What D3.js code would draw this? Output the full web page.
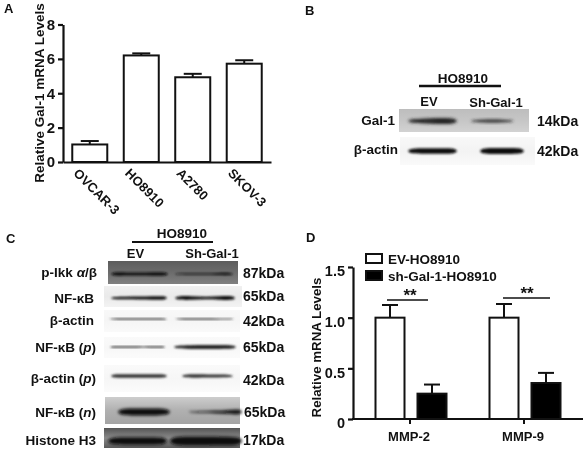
<!DOCTYPE html>
<html><head><meta charset="utf-8">
<script src="https://cdn.jsdelivr.net/npm/d3@7/dist/d3.min.js"></script>
<style>html,body{margin:0;padding:0;background:#fff}svg{display:block;filter:blur(.35px)}text{font-family:"Liberation Sans",Arial,sans-serif;font-weight:bold;fill:#111}</style>
</head><body><svg id="c" width="587" height="454"></svg>
<script>
// Panel A data
const aCategories=["OVCAR-3","HO8910","A2780","SKOV-3"];
const aValues=[1.02,6.2,4.93,5.72];
const aErrors=[0.2,0.12,0.2,0.2];
const aTicks=[0,2,4,6,8];
// Panel D data
const dCategories=["MMP-2","MMP-9"];
const dSeriesNames=["EV-HO8910","sh-Gal-1-HO8910"];
const dEV=[1.0,1.0];
const dEVErr=[0.125,0.135];
const dSh=[0.25,0.355];
const dShErr=[0.09,0.1];
const dTicks=[0,0.5,1.0,1.5];
const dTickLabels=["0","0.5","1.0","1.5"];
// Blot band strengths, sampled across each lane (estimated, 0..1)
const bLabels=["Gal-1","β-actin"];
const bKda=["14kDa","42kDa"];
const bLanes=["EV","Sh-Gal-1"];
const bBand=[[[.45,.6,.8,.95,.7],[.25,.4,.45,.4,.2]],[[.7,.85,.85,.85,.8],[.8,.95,.95,.95,.85]]];
// Each label: pieces of [text, italic?]
const cLabels=[[["p-Ikk "],["α",1],["/β"]],[["NF-κB"]],[["β-actin"]],[["NF-κB ("],["p",1],[")"]],[["β-actin ("],["p",1],[")"]],[["NF-κB ("],["n",1],[")"]],[["Histone H3"]]];
const cKda=["87kDa","65kDa","42kDa","65kDa","42kDa","65kDa","17kDa"];
const cBand=[
 [[.7,.65,.55,.65,.8],[.3,.25,.3,.4,.55]],
 [[.5,.55,.55,.65,.85],[.75,.8,.45,.65,.9]],
 [[.25,.3,.25,.3,.3],[.25,.3,.25,.25,.25]],
 [[.25,.3,.2,.2,.35],[.5,.65,.65,.65,.6]],
 [[.55,.5,.45,.5,.55],[.4,.5,.45,.4,.35]],
 [[.8,1,1,1,.85],[.15,.25,.3,.5,.8]],
 [[.7,.85,.85,.85,.8],[.9,1,1,.95,.9]]
];

const svg=d3.select("#c");
const defs=svg.append("defs");
[["b1",.9],["b2",1.4]].forEach(([id,s])=>defs.append("filter").attr("id",id)
  .attr("x","-10%").attr("y","-60%").attr("width","120%").attr("height","220%")
  .append("feGaussianBlur").attr("stdDeviation",s));

function axisStyle(g,w=2.2){g.selectAll(".domain").attr("stroke","#111").attr("stroke-width",w);
  g.selectAll(".tick line").attr("stroke","#111").attr("stroke-width",w);}
function txt(x,y,s,size,anchor="start",parent=svg){return parent.append("text").attr("x",x).attr("y",y).attr("font-size",size).attr("text-anchor",anchor).text(s);}

// panel letters
[["A",4,13],["B",305,15],["C",6,243],["D",306,242]].forEach(d=>txt(d[1],d[2],d[0],13));

// Panel A
{
 const x=d3.scaleBand().domain(aCategories).range([63,271]).paddingInner(.32).paddingOuter(.18);
 const y=d3.scaleLinear().domain([0,8]).range([162,24.5]);
 aCategories.forEach((c,i)=>{
  const cx=x(c)+x.bandwidth()/2;
  svg.append("line").attr("x1",cx).attr("x2",cx).attr("y1",y(aValues[i])).attr("y2",y(aValues[i]+aErrors[i])).attr("stroke","#111").attr("stroke-width",2);
  svg.append("line").attr("x1",cx-9).attr("x2",cx+9).attr("y1",y(aValues[i]+aErrors[i])).attr("y2",y(aValues[i]+aErrors[i])).attr("stroke","#111").attr("stroke-width",2);
  svg.append("rect").attr("x",x(c)).attr("y",y(aValues[i])).attr("width",x.bandwidth()).attr("height",y(0)-y(aValues[i])).attr("fill","#fff").attr("stroke","#111").attr("stroke-width",2);
 });
 const ay=svg.append("g").attr("transform","translate(63,0)").call(d3.axisLeft(y).tickValues(aTicks).tickSize(5).tickSizeOuter(0).tickPadding(3));
 axisStyle(ay); ay.selectAll("text").attr("font-size",15);
 const ax=svg.append("g").attr("transform","translate(0,162)").call(d3.axisBottom(x).tickSize(0).tickSizeOuter(0));
 axisStyle(ax);
 ax.selectAll(".tick text").attr("font-size",13).attr("text-anchor","start").attr("dy",0).attr("y",0)
   .attr("transform","translate(-17,12) rotate(45)");
 txt(0,0,"Relative Gal-1 mRNA Levels",13.5,"middle").attr("transform","translate(44,93) rotate(-90)");
}

// Panel D
{
 const centres=[411,525];
 const y=d3.scaleLinear().domain([0,1.5]).range([419,267]);
 const sigY=[300,298], sigX=[[387,428],[503,550]], starX=[410,527], tickX=[410,524];
 dCategories.forEach((c,i)=>{
  const cx=centres[i];
  [[dEV,dEVErr,"#fff",cx-21],[dSh,dShErr,"#000",cx+21]].forEach(([v,e,f,m])=>{
   const top=y(v[i]+e[i]);
   svg.append("line").attr("x1",m).attr("x2",m).attr("y1",y(v[i])).attr("y2",top).attr("stroke","#111").attr("stroke-width",2);
   svg.append("line").attr("x1",m-8).attr("x2",m+8).attr("y1",top).attr("y2",top).attr("stroke","#111").attr("stroke-width",2);
   svg.append("rect").attr("x",m-14.5).attr("y",y(v[i])).attr("width",29).attr("height",y(0)-y(v[i])).attr("fill",f).attr("stroke","#111").attr("stroke-width",2);
  });
  svg.append("line").attr("x1",sigX[i][0]).attr("x2",sigX[i][1]).attr("y1",sigY[i]).attr("y2",sigY[i]).attr("stroke","#111").attr("stroke-width",1.6);
  txt(starX[i],sigY[i]+1,"**",17,"middle");
  svg.append("line").attr("x1",tickX[i]).attr("x2",tickX[i]).attr("y1",419).attr("y2",424).attr("stroke","#111").attr("stroke-width",2);
  txt(tickX[i]-1,441,c,13,"middle");
 });
 const ay=svg.append("g").attr("transform","translate(353,0)").call(d3.axisLeft(y).tickValues(dTicks).tickFormat((d,i)=>dTickLabels[i]).tickSize(5).tickSizeOuter(0).tickPadding(3));
 axisStyle(ay); ay.selectAll("text").attr("font-size",14.5).attr("dy","0.6em");
 svg.append("line").attr("x1",352).attr("x2",583).attr("y1",419).attr("y2",419).attr("stroke","#111").attr("stroke-width",2.2);
 txt(0,0,"Relative mRNA Levels",13.3,"middle").attr("transform","translate(321,347.5) rotate(-90)");
 const leg=[[dSeriesNames[0],"#fff",254],[dSeriesNames[1],"#000",271]];
 leg.forEach(([s,f,yy])=>{
  svg.append("rect").attr("x",366).attr("y",yy).attr("width",16).attr("height",9).attr("fill",f).attr("stroke","#111").attr("stroke-width",2);
  txt(388,yy+9.5,s,13.5);
 });
}

// Blots
function band(lx0,lx1,yc,vals,thick,color,filt){
 const px=d3.scalePoint().domain(d3.range(vals.length)).range([lx0,lx1]);
 const pts=[{i:0,v:0,e:-1},...vals.map((v,i)=>({i,v})),{i:vals.length-1,v:0,e:1}];
 const xf=d=>d.e?px(d.i)+d.e*2:px(d.i);
 svg.append("path").attr("d",d3.area().curve(d3.curveBasis).x(xf)
   .y0(d=>yc-thick*d.v/2).y1(d=>yc+thick*d.v/2)(pts))
   .attr("fill",color).attr("filter",`url(#${filt})`);
}
function blotRow(r){
 const cl=`blot${r.id}`;
 const grad=defs.append("linearGradient").attr("id",cl).attr("x1",0).attr("y1",0).attr("x2",0).attr("y2",1);
 r.bg.forEach((c,i)=>grad.append("stop").attr("offset",i/(r.bg.length-1)).attr("stop-color",c));
 svg.append("rect").attr("x",r.x0).attr("y",r.y0).attr("width",r.x1-r.x0).attr("height",r.y1-r.y0).attr("fill",`url(#${cl})`);
 r.lanes.forEach((l,i)=>band(l[0],l[1],r.yc,r.vals[i],r.t,r.color||"#111",r.f||"b1"));
 const t=svg.append("text").attr("x",r.lx).attr("y",r.ly).attr("font-size",r.size||13.5).attr("text-anchor","end");
 r.label.forEach(([s,it])=>t.append("tspan").attr("font-style",it?"italic":"normal").text(s));
 txt(r.kx,r.ky,r.kda,r.ksize||14,"start");
}
// Panel B
txt(463,83,"HO8910",13.5,"middle");
svg.append("line").attr("x1",419).attr("x2",501).attr("y1",86).attr("y2",86).attr("stroke","#111").attr("stroke-width",2.4);
txt(429,106,bLanes[0],13,"middle"); txt(496,107,bLanes[1],13,"middle");
blotRow({id:"b0",x0:399,x1:529,y0:109,y1:132,bg:["#bdbdbd","#c6c6c6","#d2d2d2"],yc:121,t:7,lanes:[[410,455],[473,512]],vals:bBand[0],label:[[bLabels[0]]],kda:bKda[0],lx:395,ly:125,kx:537,ky:126,f:"b2",color:"#222"});
blotRow({id:"b1",x0:400,x1:535,y0:137,y1:165,bg:["#f8f8f8","#f3f3f3","#fafafa"],yc:151,t:6.5,lanes:[[410,455],[482,522]],vals:bBand[1],label:[[bLabels[1]]],kda:bKda[1],lx:398,ly:154,kx:537,ky:156,color:"#111"});

// Panel C
txt(182,238,"HO8910",13.5,"middle");
svg.append("line").attr("x1",132).attr("x2",213).attr("y1",242).attr("y2",242).attr("stroke","#111").attr("stroke-width",2.2);
txt(135.5,258,bLanes[0],13,"middle"); txt(212,258,bLanes[1],13,"middle");
const cLayout=[
 {x0:108,x1:238,y0:261,y1:284,bg:["#5c5c5c","#6c6c6c","#808080"],yc:274,t:5,lanes:[[113,166],[177,231]],lx:97,ly:277,kx:243,ky:278,color:"#111"},
 {x0:104,x1:242,y0:286,y1:307,bg:["#f0f0f0","#eaeaea","#f3f3f3"],yc:298,t:5,lanes:[[113,165],[177,233]],lx:94,ly:303,kx:243,ky:301},
 {x0:104,x1:240,y0:310,y1:332,bg:["#f8f8f8","#f5f5f5","#fafafa"],yc:319,t:5,lanes:[[111,165],[177,232]],lx:94,ly:325,kx:243,ky:326,color:"#333"},
 {x0:104,x1:240,y0:337,y1:358,bg:["#fafafa","#f7f7f7","#fbfbfb"],yc:347,t:6,lanes:[[112,163],[176,234]],lx:96,ly:352,kx:243,ky:352,color:"#222"},
 {x0:104,x1:240,y0:365,y1:392,bg:["#fafafa","#f6f6f6","#fbfbfb"],yc:376,t:7,lanes:[[113,165],[184,231]],lx:96,ly:383,kx:243,ky:385,color:"#333"},
 {x0:105,x1:240,y0:397,y1:424,bg:["#cdcdcd","#b0b0b0","#a4a4a4"],yc:412,t:7,lanes:[[120,168],[190,240]],lx:96,ly:417,kx:244,ky:417,f:"b2",color:"#0a0a0a"},
 {x0:104,x1:240,y0:428,y1:448,bg:["#555","#8a8a8a","#5a5a5a"],yc:441,t:9,lanes:[[110,165],[172,240]],lx:96,ly:445,kx:243,ky:445,f:"b2",color:"#111"}
];
cLayout.forEach((r,i)=>blotRow({...r,id:"c"+i,label:cLabels[i],kda:cKda[i],vals:cBand[i]}));
</script></body></html>
